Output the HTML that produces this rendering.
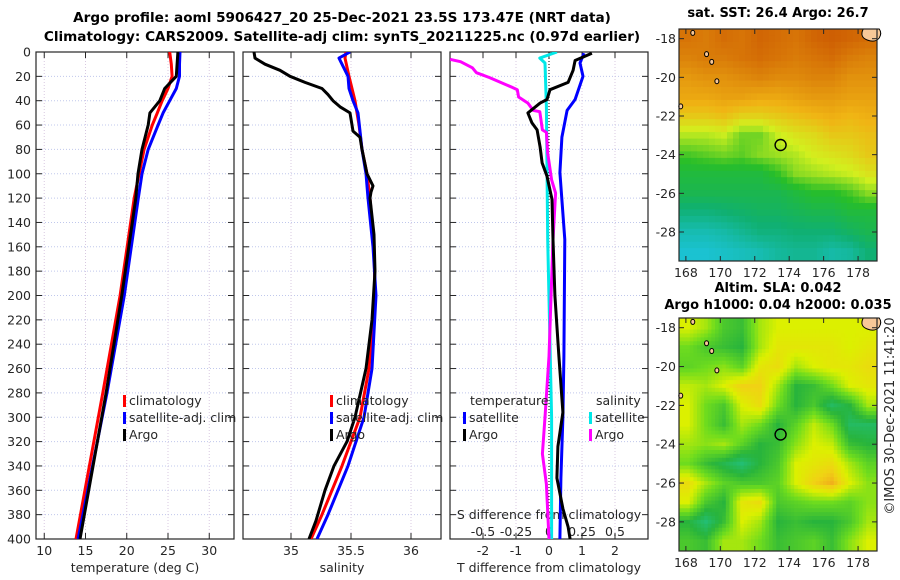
<!DOCTYPE html>
<html><head><meta charset="utf-8"><style>
html,body{margin:0;padding:0;background:#fff;}
svg{display:block;font-family:"DejaVu Sans","Liberation Sans",sans-serif;}
.t{font-size:12.5px;fill:#262626;}
.b{font-size:13px;font-weight:bold;fill:#000;}
.bt{font-size:13.6px;font-weight:bold;fill:#000;}
</style></head><body>
<svg id="fig" width="900" height="580" viewBox="0 0 900 580" xmlns="http://www.w3.org/2000/svg">
<text class="bt" x="342" y="22" text-anchor="middle">Argo profile: aoml 5906427_20 25-Dec-2021 23.5S 173.47E (NRT data)</text>
<text class="bt" x="342" y="41" text-anchor="middle">Climatology: CARS2009. Satellite-adj clim: synTS_20211225.nc (0.97d earlier)</text>
<text class="b" x="778" y="17" text-anchor="middle">sat. SST: 26.4 Argo: 26.7</text>
<text class="b" x="778" y="292" text-anchor="middle">Altim. SLA: 0.042</text>
<text class="b" x="778" y="309" text-anchor="middle">Argo h1000: 0.04 h2000: 0.035</text>
<text class="t" transform="translate(894,416) rotate(-90)" text-anchor="middle" style="font-size:13px">©IMOS 30-Dec-2021 11:41:20</text>
<g id="layer"></g>
</svg>
<script>
// ---- Panel 1: temperature profiles ----
const depthT = [0,10,20,30,40,50,60,80,100,120,200,280,400];
const tClim = [25.2,25.4,25.5,25.0,24.3,23.7,23.1,22.1,21.5,20.9,19.2,17.1,13.85];
const tSat  = [26.45,26.4,26.4,26.0,25.2,24.4,23.8,22.6,21.85,21.4,19.7,17.6,14.1];
const tArgo = [26.2,26.1,26.0,24.6,24.0,22.8,22.6,21.85,21.36,21.1,19.4,17.5,14.33];
// ---- Panel 2: salinity profiles ----
const depthSArgo = [0,5,10,15,20,25,30,35,40,45,50,60,65,70,80,100,110,115,120,150,180,220,260,300,320,340,360,385,400];
const sArgo = [34.692,34.7,34.783,34.908,34.992,35.117,35.258,35.308,35.35,35.408,35.492,35.508,35.517,35.575,35.592,35.633,35.683,35.667,35.658,35.692,35.7,35.675,35.625,35.533,35.467,35.358,35.283,35.208,35.15];
const depthSClim = [0,5,20,40,60,80,100,120,160,200,260,300,340,380,400];
const sClim = [35.458,35.45,35.483,35.533,35.567,35.592,35.633,35.658,35.692,35.7,35.65,35.575,35.425,35.258,35.167];
const depthSSat = [0,5,10,20,30,40,50,80,100,120,160,200,260,300,340,380,400];
const sSat = [35.492,35.4,35.425,35.475,35.483,35.517,35.558,35.592,35.625,35.642,35.683,35.708,35.675,35.608,35.475,35.308,35.217];
// ---- Panel 3: differences ----
const tDiffArgoDepth = [1,7,15,25,31,39,42,50,58,64,78,91,102,121,154,200,250,296,324,350,375,390,400];
const tDiffArgo = [1.30,0.79,0.73,0.58,0.03,-0.06,-0.27,-0.64,-0.52,-0.36,-0.27,-0.21,-0.06,0.09,0.12,0.18,0.3,0.42,0.27,0.24,0.42,0.58,0.64];
const tDiffSatDepth = [1,9,20,39,48,70,99,154,250,300,350,400];
const tDiffSat = [1.06,0.94,1.03,0.79,0.55,0.39,0.33,0.48,0.45,0.42,0.36,0.33];
const sDiffSatDepth = [0,5,9,45,154,300,400];
const sDiffSat = [0.06,-0.07,-0.03,-0.02,-0.01,0.02,0.02];
const sDiffArgoDepth = [6,8,13,17,21,29,31,37,42,48,49,64,66,83,105,116,154,250,300,330,355,400];
const sDiffArgo = [-0.75,-0.67,-0.58,-0.55,-0.45,-0.28,-0.24,-0.23,-0.16,-0.12,-0.07,-0.05,-0.02,-0.01,0.02,0.05,0.03,0.0,-0.03,-0.05,-0.02,0.0];
// ---- Tick labels ----
const depthTicks = [0,20,40,60,80,100,120,140,160,180,200,220,240,260,280,300,320,340,360,380,400];
const tempTicks = [10,15,20,25,30];
const salTicks = [35,35.5,36];
const tDiffTicks = [-2,-1,0,1,2];
const sDiffTicks = [-0.5,-0.25,0,0.25,0.5];
const latTicks = [-18,-20,-22,-24,-26,-28];
const lonTicks = [168,170,172,174,176,178];
// ---- Map grids (rows lat -18..-29, cols lon west->east) ----
const sstGrid = [
[27.6,27.5,27.7,27.6,27.8,27.7,27.6,27.8,27.9,27.8,27.7],
[27.4,27.5,27.5,27.6,27.7,27.6,27.5,27.6,27.7,27.5,27.4],
[27.1,27.2,27.2,27.3,27.4,27.3,27.3,27.4,27.4,27.2,27.2],
[26.9,26.9,27.0,27.0,26.9,26.9,27.0,27.1,27.1,27.0,27.0],
[26.5,26.5,26.6,26.4,26.4,26.5,26.6,26.7,26.8,26.7,26.8],
[25.9,25.9,26.0,25.6,25.6,26.0,26.2,26.3,26.5,26.5,26.6],
[25.4,25.5,25.6,25.5,25.7,25.8,25.9,26.1,26.2,26.3,26.5],
[25.0,25.0,25.0,25.0,25.0,25.3,25.7,25.8,25.9,26.0,26.2],
[24.8,24.8,24.8,24.8,24.8,24.8,25.0,25.2,25.2,25.4,25.7],
[24.3,24.3,24.4,24.5,24.6,24.6,24.7,24.8,24.8,25.0,25.0],
[23.8,23.8,23.9,24.1,24.3,24.3,24.4,24.4,24.4,24.6,24.8],
[23.5,23.5,23.6,23.7,23.8,24.0,24.1,24.1,23.9,24.0,24.4]];
const slaGrid = [
[.7,.6,.4,.35,.6,.7,.7,.7,.7,.7,.7],
[.5,.4,.35,.3,.6,.75,.75,.75,.75,.7,.75],
[.45,.5,.55,.45,.75,.8,.6,.7,.75,.75,.8],
[.65,.6,.7,.85,.85,.6,.3,.35,.5,.7,.75],
[.7,.5,.4,.7,.8,.5,.3,.4,.2,.3,.6],
[.7,.5,.35,.6,.5,.3,.45,.65,.5,.2,.2],
[.6,.55,.6,.45,.3,.35,.55,.7,.65,.35,.3],
[.5,.35,.25,.15,.3,.4,.7,.75,.8,.6,.45],
[.8,.6,.45,.4,.4,.45,.7,.85,.95,.7,.55],
[.7,.4,.3,.75,.8,.4,.45,.5,.5,.45,.55],
[.3,.15,.35,.7,.6,.3,.35,.3,.3,.4,.6],
[.4,.35,.6,.6,.5,.35,.4,.45,.35,.55,.7]];
const argoLon = 173.5, argoLat = -23.5;

const NS='http://www.w3.org/2000/svg';
const layer=document.getElementById('layer');
function mk(tag,attrs,parent){const e=document.createElementNS(NS,tag);for(const k in attrs)e.setAttribute(k,attrs[k]);(parent||layer).appendChild(e);return e;}

const TOP=52,BOT=539;
const yD=d=>TOP+d*(BOT-TOP)/400;
function xs(x0,x1,v0,v1){return v=>x0+(v-v0)*(x1-x0)/(v1-v0);}
const P=[{x0:36,x1:234,v0:9,v1:33,n:'temperature'},{x0:243,x1:441,v0:34.6,v1:36.25,n:'salinity'},{x0:450,x1:648,v0:-3,v1:3,n:'difference'}];
P.forEach(p=>p.f=xs(p.x0,p.x1,p.v0,p.v1));
const xT=P[0].f,xS=P[1].f,xTd=P[2].f,xSd=v=>xTd(v*4);

function text(x,y,s,cls,anchor,name,extra){const t=mk('text',Object.assign({x:x,y:y,class:cls,'text-anchor':anchor||'middle'},extra||{}));t.textContent=s;


return t;}

P.forEach((p,i)=>{
  const g=mk('g',{});
  
  
  const cp=mk('clipPath',{id:'clip'+i});mk('rect',{x:p.x0,y:TOP,width:p.x1-p.x0,height:BOT-TOP},cp);
  depthTicks.forEach(d=>{
    const l=mk('line',{x1:p.x0,x2:p.x1,y1:yD(d),y2:yD(d),stroke:'#c0c8ec','stroke-width':1,'stroke-dasharray':'1,2'},g);
    
    
    mk('line',{x1:p.x0,x2:p.x0+6,y1:yD(d),y2:yD(d),stroke:'#262626'},g);
    mk('line',{x1:p.x1-6,x2:p.x1,y1:yD(d),y2:yD(d),stroke:'#262626'},g);
    if(i===0) text(p.x0-5,yD(d)+4.5,String(d),'t','end','depth-tick-label');
  });
  const ticks=i===0?tempTicks:i===1?salTicks:tDiffTicks;
  ticks.forEach(v=>{
    const x=p.f(v);
    const l=mk('line',{x1:x,x2:x,y1:TOP,y2:BOT,stroke:'#d8c8e0','stroke-width':1,'stroke-dasharray':'1,2'},g);
    
    
    mk('line',{x1:x,x2:x,y1:BOT-6,y2:BOT,stroke:'#262626'},g);
    mk('line',{x1:x,x2:x,y1:TOP,y2:TOP+6,stroke:'#262626'},g);
    text(x,BOT+16,String(v),'t','middle','x-tick-label');
  });
  mk('rect',{x:p.x0,y:TOP,width:p.x1-p.x0,height:BOT-TOP,fill:'none',stroke:'#262626','stroke-width':1.2},g);
});
text(135,572,'temperature (deg C)','t','middle','temperature-axis-title');
text(342,572,'salinity','t','middle','salinity-axis-title');
text(549,572,'T difference from climatology','t','middle','t-difference-axis-title');
text(549,519,'S difference from climatology','t','middle','s-difference-axis-title');
sDiffTicks.forEach(v=>text(xSd(v),536,String(v),'t','middle','s-difference-tick-label'));
const zl=mk('line',{x1:xTd(0),x2:xTd(0),y1:TOP,y2:BOT,stroke:'#000','stroke-width':1,'stroke-dasharray':'1,2'});



function series(vals,depths,fx,color,name,clip,w){
  const pts=vals.map((v,k)=>fx(v).toFixed(1)+','+yD(depths[k]).toFixed(1)).join(' ');
  const pl=mk('polyline',{points:pts,fill:'none',stroke:color,'stroke-width':w||3,'stroke-linejoin':'round','clip-path':'url(#clip'+clip+')'});
  
  
}
series(tClim,depthT,xT,'#ff0000','temperature-climatology-line',0);
series(tSat,depthT,xT,'#0000ff','temperature-satellite-line',0);
series(tArgo,depthT,xT,'#000000','temperature-argo-line',0);
series(sClim,depthSClim,xS,'#ff0000','salinity-climatology-line',1);
series(sSat,depthSSat,xS,'#0000ff','salinity-satellite-line',1);
series(sArgo,depthSArgo,xS,'#000000','salinity-argo-line',1);
series(sDiffSat,sDiffSatDepth,xSd,'#00e8e8','s-diff-satellite-line',2);
series(sDiffArgo,sDiffArgoDepth,xSd,'#ff00ff','s-diff-argo-line',2);
series(tDiffSat,tDiffSatDepth,xTd,'#0000ff','t-diff-satellite-line',2);
series(tDiffArgo,tDiffArgoDepth,xTd,'#000000','t-diff-argo-line',2);

function legendEntry(x,y,color,label,name){
  const r=mk('rect',{x:x,y:y-10,width:3,height:12,fill:color});
  
  
  text(x+6,y,label,'t','start',name);
}
[[123,'#ff0000','climatology'],[123,'#0000ff','satellite-adj. clim'],[123,'#000','Argo']].forEach((e,k)=>legendEntry(e[0],405+k*17,e[1],e[2],'temp-legend-entry'));
[[330,'#ff0000','climatology'],[330,'#0000ff','satellite-adj. clim'],[330,'#000','Argo']].forEach((e,k)=>legendEntry(e[0],405+k*17,e[1],e[2],'sal-legend-entry'));
text(470,405,'temperature','t','start','diff-legend-temperature-header');
text(596,405,'salinity','t','start','diff-legend-salinity-header');
legendEntry(463,422,'#0000ff','satellite','diff-legend-t-satellite');
legendEntry(463,439,'#000','Argo','diff-legend-t-argo');
legendEntry(589,422,'#00e8e8','satellite','diff-legend-s-satellite');
legendEntry(589,439,'#ff00ff','Argo','diff-legend-s-argo');

// ---- maps ----
function lerpC(stops,t){t=Math.max(0,Math.min(1,t));for(let k=1;k<stops.length;k++){if(t<=stops[k][0]){const a=stops[k-1],b=stops[k],u=(t-a[0])/(b[0]-a[0]);const c=[0,1,2].map(j=>Math.round(a[1][j]+(b[1][j]-a[1][j])*u));return 'rgb('+c.join(',')+')';}}return 'rgb('+stops[stops.length-1][1].join(',')+')';}
const sstStops=[[0,[30,200,240]],[0.25,[16,176,112]],[0.42,[40,190,40]],[0.58,[210,240,30]],[0.72,[240,180,20]],[1,[200,80,0]]];
const slaStops=[[0,[30,200,170]],[0.3,[40,180,60]],[0.5,[110,220,30]],[0.7,[220,240,0]],[0.85,[240,210,20]],[1,[240,160,30]]];
const MX0=679,MX1=877,LON0=167.6,LON1=179.1;
const lonX=l=>MX0+(l-LON0)*(MX1-MX0)/(LON1-LON0);
function sample(grid,r,c){
  const nr=grid.length,nc=grid[0].length;
  r=Math.max(0,Math.min(nr-1,r));c=Math.max(0,Math.min(nc-1,c));
  const r0=Math.floor(r),c0=Math.floor(c),r1=Math.min(nr-1,r0+1),c1=Math.min(nc-1,c0+1),fr=r-r0,fc=c-c0;
  return (grid[r0][c0]*(1-fc)+grid[r0][c1]*fc)*(1-fr)+(grid[r1][c0]*(1-fc)+grid[r1][c1]*fc)*fr;
}
function drawMap(top,bot,grid,stops,norm,name,sub){
  const latY=lat=>top+(-17.5-lat)*(bot-top)/12;
  const g=mk('g',{});
  
  
  const nr=grid.length,nc=grid[0].length;
  const cw=(MX1-MX0)/(nc*sub),ch=(bot-top)/(nr*sub);
  for(let i=0;i<nr*sub;i++)for(let j=0;j<nc*sub;j++){
    const v=sample(grid,(i+0.5)/sub-0.5,(j+0.5)/sub-0.5);
    const cell=mk('rect',{x:(MX0+j*cw).toFixed(1),y:(top+i*ch).toFixed(1),width:(cw+0.5).toFixed(1),height:(ch+0.5).toFixed(1),fill:lerpC(stops,norm(v))},g);
    
    
  }
  const land=mk('path',{d:`M${lonX(178.3)},${top} q-4,8 4,11 q8,3 12,-2 q3,-5 0,-9 z`,fill:'#f8c898',stroke:'#000','stroke-width':1},g);
  
  
  [[168.4,-17.7],[169.2,-18.8],[169.5,-19.2],[169.8,-20.2],[167.7,-21.5]].forEach(p=>{
    const e=mk('ellipse',{cx:lonX(p[0]),cy:latY(p[1]),rx:2,ry:2.5,fill:'#f8c898',stroke:'#000','stroke-width':1},g);
    
    
  });
  const m=mk('circle',{cx:lonX(argoLon),cy:latY(argoLat),r:5.5,fill:'none',stroke:'#000','stroke-width':1.4},g);
  
  
  mk('rect',{x:MX0,y:top,width:MX1-MX0,height:bot-top,fill:'none',stroke:'#262626','stroke-width':1.2},g);
  latTicks.forEach(l=>{const y=latY(l);mk('line',{x1:MX0,x2:MX0+5,y1:y,y2:y,stroke:'#262626'},g);mk('line',{x1:MX1-5,x2:MX1,y1:y,y2:y,stroke:'#262626'},g);
    text(MX0-3,y+4.5,String(l),'t','end','latitude-tick-label');});
  lonTicks.forEach(l=>{const x=lonX(l);mk('line',{x1:x,x2:x,y1:bot-5,y2:bot,stroke:'#262626'},g);mk('line',{x1:x,x2:x,y1:top,y2:top+5,stroke:'#262626'},g);
    text(x,bot+16,String(l),'t','middle','longitude-tick-label');});
}
drawMap(29,261,sstGrid,sstStops,v=>(v-23.2)/(28.1-23.2),'sst-map',3);
drawMap(318,551,slaGrid,slaStops,v=>v,'sla-map',5);
</script>
</body></html>
